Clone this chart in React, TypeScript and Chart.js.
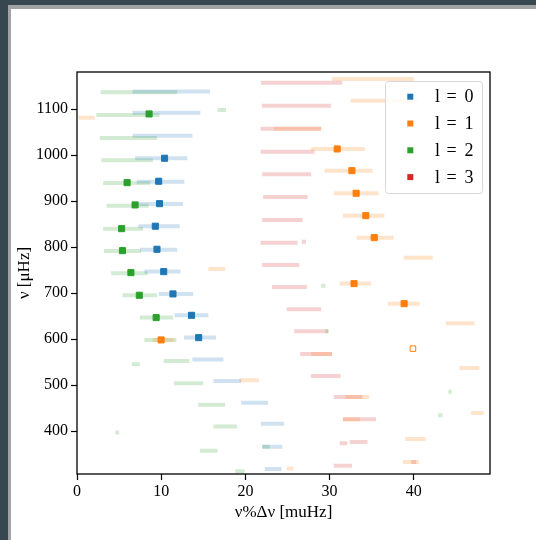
import React, { useEffect, useRef } from "react";
import { Chart, registerables } from "chart.js";

Chart.register(...registerables);

// ---- data ----
const degreeLabels = ["l = 0", "l = 1", "l = 2", "l = 3"];
const degreeColors = ["#1f77b4", "#ff7f0e", "#2ca02c", "#d62728"];

const xTicks = [0, 10, 20, 30, 40];
const yTicks = [400, 500, 600, 700, 800, 900, 1000, 1100];
const xLimits = [0, 49.05];
const yLimits = [307, 1181];

// fitted ranges: [frequency, low x, high x]
const l0Bars = [
  [1138.7, 6.6, 15.8], [1092.6, 6.6, 14.65], [1042.6, 6.6, 13.7], [993.5, 6.9, 13.1],
  [942.6, 7.1, 12.75], [894, 7.3, 12.6], [845.7, 7.3, 12.2], [794.8, 7.5, 11.9],
  [747, 8.0, 12.3], [698.5, 9.7, 13.8], [652, 11.6, 15.6], [603.5, 12.7, 16.5],
  [555.7, 13.7, 17.4], [509, 16.2, 19.5], [462, 19.5, 22.7], [416, 21.85, 24.6],
  [366, 22.0, 24.4], [318, 22.3, 24.3],
];
const l1Bars = [
  [1166, 30.3, 40.0], [1118.7, 32.5, 40.5], [1081.7, 0.2, 2.1], [1057.8, 23.4, 29.0],
  [1013.7, 27.8, 34.2], [966.5, 29.4, 35.1], [917.4, 30.5, 35.8], [868.7, 31.6, 36.5],
  [820.9, 33.2, 37.6], [777, 38.8, 42.25], [752.8, 15.6, 17.6], [721, 31.2, 34.9],
  [677.4, 36.9, 40.7], [634.8, 43.8, 47.2], [598.5, 9.0, 11.5], [568, 27.8, 30.3],
  [537.6, 45.4, 47.8], [511, 19.3, 21.6], [474.6, 31.85, 34.7], [439.8, 46.8, 48.3],
  [426, 31.6, 33.6], [383.3, 39.0, 41.4], [333.3, 38.7, 40.6], [319, 24.9, 25.7],
];
const l2Bars = [
  [1137, 2.8, 11.9], [1087.6, 2.3, 9.8], [1037.6, 2.7, 9.5], [989, 2.9, 9.0],
  [939.8, 3.1, 8.7], [890.4, 3.5, 8.5], [840.4, 3.1, 7.85], [792, 3.2, 7.6],
  [743.5, 4.05, 8.4], [695.6, 5.4, 9.5], [647, 7.45, 11.4], [598.5, 8.0, 11.8],
  [552.8, 10.3, 13.35], [545.7, 6.5, 7.45], [504.3, 11.5, 15.0], [457.8, 14.4, 17.6],
  [410, 16.2, 19.0], [397, 4.55, 5.0], [357.8, 14.6, 16.7], [366, 22.0, 22.9],
  [313, 18.8, 19.9], [1098.5, 16.7, 17.7], [716.5, 29.0, 29.5], [617.4, 29.5, 29.9],
  [486, 44.1, 44.5], [434.8, 42.9, 43.4],
];
const l3Bars = [
  [1157.8, 21.85, 31.5], [1107.8, 21.97, 30.15], [1057.8, 21.8, 29.0], [1007.8, 21.8, 28.2],
  [958.7, 22.0, 27.8], [909.3, 22.1, 27.4], [859.3, 22.0, 26.8], [810, 21.8, 26.2],
  [812, 26.7, 27.2], [761.5, 22.0, 26.4], [713.7, 23.15, 27.3], [665.2, 24.9, 29.0],
  [617.4, 25.8, 29.8], [568, 26.5, 30.3], [520.2, 27.8, 31.3], [474.6, 30.5, 33.9],
  [426, 31.6, 35.5], [376.7, 32.4, 34.5], [374, 31.2, 32.1], [325.2, 30.5, 32.65],
  [333.3, 39.7, 40.3],
];

// identified modes
const l0ModeX = [10.4, 9.7, 9.8, 9.3, 9.5, 10.3, 11.4, 13.6, 14.45];
const l0ModeNu = [993.5, 943.5, 894.8, 845.7, 795.6, 747, 698.5, 652, 603.5];
const l1ModeX = [30.9, 32.65, 33.15, 34.3, 35.3, 32.9, 38.85, 9.99];
const l1ModeNu = [1013.7, 966.5, 917.4, 868.7, 820.9, 720.9, 677.4, 598.5];
const l2ModeX = [8.56, 5.95, 6.9, 5.3, 5.4, 6.4, 7.4, 9.4];
const l2ModeNu = [1089.8, 940.4, 892, 840.4, 792.6, 744.8, 695.6, 647];
const l1OpenX = [39.9];
const l1OpenNu = [579.6];

// ---- helpers ----
const SERIF = "'Liberation Serif', 'Times New Roman', serif";

function rgba(hex: string, a: number) {
  const n = parseInt(hex.slice(1), 16);
  return `rgba(${(n >> 16) & 255}, ${(n >> 8) & 255}, ${n & 255}, ${a})`;
}

function toSegments(bars: number[][]) {
  const out: any[] = [];
  for (const [nu, lo, hi] of bars) {
    out.push({ x: lo, y: nu }, { x: hi, y: nu }, { x: hi, y: null });
  }
  return out;
}

function toPoints(xs: number[], ys: number[]) {
  return xs.map((x, i) => ({ x, y: ys[i] }));
}

const frameAndLegend = {
  id: "frameAndLegend",
  afterDatasetsDraw(chart: any) {
    const { ctx, chartArea } = chart;
    ctx.save();
    ctx.strokeStyle = "#000";
    ctx.lineWidth = 1.3;
    ctx.strokeRect(chartArea.left, chartArea.top, chartArea.right - chartArea.left, chartArea.bottom - chartArea.top);
    ctx.restore();
  },
  afterDraw(chart: any) {
    const { ctx, chartArea } = chart;
    const boxW = 97;
    const boxH = 112;
    const boxLeft = chartArea.right - 8 - boxW;
    const boxTop = chartArea.top + 9;
    ctx.save();
    ctx.beginPath();
    ctx.roundRect(boxLeft + 0.5, boxTop + 0.5, boxW, boxH, 3);
    ctx.fillStyle = "rgba(255,255,255,0.85)";
    ctx.fill();
    ctx.strokeStyle = "#d6d6d6";
    ctx.lineWidth = 1;
    ctx.stroke();
    ctx.font = `18px ${SERIF}`;
    ctx.fillStyle = "#000";
    ctx.textBaseline = "middle";
    degreeLabels.forEach((label, i) => {
      const cy = boxTop + 15.7 + i * 26.8;
      ctx.fillStyle = degreeColors[i];
      ctx.fillRect(boxLeft + 22.3, cy - 3, 6, 6);
      ctx.fillStyle = "#000";
      const parts = label.split(" ");
      ctx.textAlign = "left";
      ctx.fillText(parts[0], boxLeft + 50, cy + 1);
      ctx.textAlign = "center";
      ctx.fillText(parts[1], boxLeft + 66.5, cy + 1);
      ctx.fillText(parts[2], boxLeft + 84, cy + 1);
    });
    ctx.restore();
  },
};

export default function App() {
  const canvasRef = useRef<HTMLCanvasElement | null>(null);

  useEffect(() => {
    const canvas = canvasRef.current;
    if (!canvas) return;
    const barSets = [l0Bars, l1Bars, l2Bars, l3Bars];
    const barDatasets = barSets.map((bars, i) => ({
      label: degreeLabels[i] + " range",
      data: toSegments(bars),
      showLine: true,
      spanGaps: false,
      borderColor: rgba(degreeColors[i], 0.21),
      backgroundColor: rgba(degreeColors[i], 0.21),
      borderWidth: 4,
      borderCapStyle: "butt",
      pointRadius: 0,
      pointHoverRadius: 0,
      order: 2,
    }));
    const modeSets = [
      [l0ModeX, l0ModeNu, 0],
      [l1ModeX, l1ModeNu, 1],
      [l2ModeX, l2ModeNu, 2],
    ] as const;
    const modeDatasets = modeSets.map(([xs, ys, i]) => ({
      label: degreeLabels[i],
      data: toPoints(xs as number[], ys as number[]),
      pointStyle: "rect",
      pointRadius: 4.3,
      borderWidth: 1,
      borderColor: degreeColors[i],
      backgroundColor: degreeColors[i],
      showLine: false,
      order: 0,
    }));
    const openDataset = {
      label: "l = 1 (candidate)",
      data: toPoints(l1OpenX, l1OpenNu),
      pointStyle: "rect",
      pointRadius: 3.9,
      borderWidth: 1,
      borderColor: degreeColors[1],
      backgroundColor: "#ffffff",
      showLine: false,
      order: 0,
    };

    const chart = new Chart(canvas, {
      type: "scatter",
      data: { datasets: [...barDatasets, ...modeDatasets, openDataset] as any },
      options: {
        animation: false,
        responsive: false,
        devicePixelRatio: 1,
        layout: { padding: { left: 0, top: 72, right: 46, bottom: 0 } },
        plugins: { legend: { display: false }, tooltip: { enabled: false } },
        scales: {
          x: {
            type: "linear",
            min: xLimits[0],
            max: xLimits[1],
            afterBuildTicks: (scale: any) => {
              scale.ticks = xTicks.map((v) => ({ value: v }));
            },
            afterFit: (scale: any) => {
              scale.height = 66;
            },
            grid: { display: true, drawOnChartArea: false, drawTicks: true, tickLength: 6, tickWidth: 1.2, tickColor: "#000" },
            border: { display: false },
            ticks: {
              color: "#000",
              font: { family: SERIF, size: 16 },
              padding: 2,
              maxRotation: 0,
              callback: (v: any) => String(v),
            },
            title: {
              display: true,
              text: "ν%Δν [muHz]",
              color: "#000",
              font: { family: SERIF, size: 17 },
              padding: { top: 0, bottom: 17 },
            },
          },
          y: {
            type: "linear",
            min: yLimits[0],
            max: yLimits[1],
            afterBuildTicks: (scale: any) => {
              scale.ticks = yTicks.map((v) => ({ value: v }));
            },
            afterFit: (scale: any) => {
              scale.width = 77;
            },
            grid: { display: true, drawOnChartArea: false, drawTicks: true, tickLength: 6, tickWidth: 1.2, tickColor: "#000" },
            border: { display: false },
            ticks: {
              color: "#000",
              font: { family: SERIF, size: 16 },
              padding: 3,
              callback: (v: any) => String(v),
            },
            title: {
              display: true,
              text: "ν [μHz]",
              color: "#000",
              font: { family: SERIF, size: 17 },
              padding: { top: 14, bottom: 0 },
            },
          },
        },
      } as any,
      plugins: [frameAndLegend],
    });
    return () => chart.destroy();
  }, []);

  return (
    <div style={{ position: "fixed", left: 0, top: 0, width: 536, height: 540, background: "#37474f", overflow: "hidden" }}>
      <div style={{ position: "absolute", left: 8, top: 5, width: 528, height: 535, background: "#a3a3a3" }} />
      <div style={{ position: "absolute", left: 11, top: 9, width: 525, height: 531, background: "#ffffff" }} />
      <canvas
        ref={canvasRef}
        width={536}
        height={540}
        style={{ position: "absolute", left: 0, top: 0, width: 536, height: 540, display: "block" }}
      />
    </div>
  );
}
